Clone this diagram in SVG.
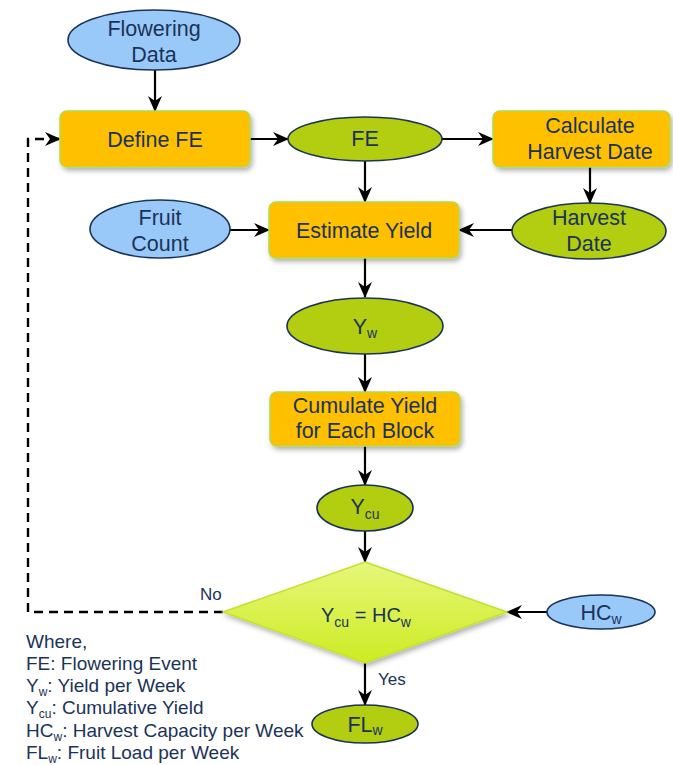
<svg xmlns="http://www.w3.org/2000/svg" width="673" height="765" viewBox="0 0 673 765">
<style>
text{font-family:"Liberation Sans",Arial,sans-serif;fill:#1B3358;}
.t{font-size:21.5px;text-anchor:middle;}
.s{font-size:14px;}
.lg{font-size:19px;}
.lgs{font-size:12px;}
.lbl{font-size:17px;}
.proc{fill:#FFC000;stroke:#B6D94A;stroke-width:1.5;filter:url(#sh);}
.inp{fill:#99C9F8;stroke:#1B3358;stroke-width:1.6;}
.out{fill:#B3CD10;stroke:#1B3358;stroke-width:1.6;}
.dec{fill:url(#dg);stroke:#C5E030;stroke-width:1.5;filter:url(#sh);}
.c{fill:none;stroke:#000;stroke-width:2.2;marker-end:url(#ah);}
.d{fill:none;stroke:#000;stroke-width:2.4;stroke-dasharray:9 6;marker-end:url(#ah);}
</style>
<defs>
<marker id="ah" viewBox="0 0 16 16" refX="15" refY="8" markerWidth="16" markerHeight="16" markerUnits="userSpaceOnUse" orient="auto">
<path d="M0,1 L16,8 L0,15 L5,8 z" fill="#000"/>
</marker>
<filter id="sh" x="-10%" y="-15%" width="125%" height="140%">
<feDropShadow dx="2" dy="3" stdDeviation="2.5" flood-color="#000" flood-opacity="0.3"/>
</filter>
<linearGradient id="dg" x1="0" y1="0" x2="0" y2="1">
<stop offset="0" stop-color="#E6F77A"/>
<stop offset="1" stop-color="#CDEB22"/>
</linearGradient>
</defs>

<g id="connectors">
<path class="c" d="M155,70 V111"/>
<path class="c" d="M250,139 H288"/>
<path class="c" d="M442,139 H493"/>
<path class="c" d="M590,167 V203"/>
<path class="c" d="M365,161 V202"/>
<path class="c" d="M230,230 H269"/>
<path class="c" d="M512,230 H459"/>
<path class="c" d="M365,258 V297"/>
<path class="c" d="M365,354 V392"/>
<path class="c" d="M365,446 V485"/>
<path class="c" d="M365,530 V562"/>
<path class="c" d="M547,612 H507"/>
<path class="c" d="M365,663 V705"/>
<path class="d" d="M223,612 H28 V139 H60"/>
<text class="lbl" x="200" y="600">No</text>
<text class="lbl" x="378" y="685">Yes</text>
</g>

<g id="flowering-data">
<ellipse class="inp" cx="154" cy="40" rx="86" ry="30"/>
<text class="t" x="154" y="36">Flowering</text>
<text class="t" x="154" y="62">Data</text>
</g>

<g id="define-fe">
<rect class="proc" x="60" y="111" width="190" height="56" rx="7"/>
<text class="t" x="155" y="147">Define FE</text>
</g>

<g id="fe">
<ellipse class="out" cx="365" cy="139" rx="77" ry="22"/>
<text class="t" x="365" y="146">FE</text>
</g>

<g id="calculate-harvest-date">
<rect class="proc" x="493" y="111" width="177" height="56" rx="7"/>
<text class="t" x="590" y="133">Calculate</text>
<text class="t" x="590" y="159">Harvest Date</text>
</g>

<g id="harvest-date">
<ellipse class="out" cx="589" cy="231" rx="77" ry="28"/>
<text class="t" x="589" y="225">Harvest</text>
<text class="t" x="589" y="251">Date</text>
</g>

<g id="fruit-count">
<ellipse class="inp" cx="160" cy="229" rx="70" ry="29"/>
<text class="t" x="160" y="225">Fruit</text>
<text class="t" x="160" y="251">Count</text>
</g>

<g id="estimate-yield">
<rect class="proc" x="269" y="202" width="190" height="56" rx="7"/>
<text class="t" x="364" y="238">Estimate Yield</text>
</g>

<g id="yw">
<ellipse class="out" cx="365" cy="326" rx="78" ry="28"/>
<text class="t" x="365" y="334">Y<tspan class="s" dy="4">w</tspan></text>
</g>

<g id="cumulate-yield">
<rect class="proc" x="270" y="392" width="190" height="54" rx="7"/>
<text class="t" x="365" y="413">Cumulate Yield</text>
<text class="t" x="365" y="438">for Each Block</text>
</g>

<g id="ycu">
<ellipse class="out" cx="365" cy="508" rx="48" ry="23"/>
<text class="t" x="365" y="514">Y<tspan class="s" dy="5">cu</tspan></text>
</g>

<g id="decision">
<polygon class="dec" points="365,562 507,612 365,663 223,612"/>
<text x="366" y="622" style="font-size:20px;text-anchor:middle">Y<tspan class="s" dy="5">cu</tspan><tspan dy="-5"> = HC</tspan><tspan class="s" dy="5">w</tspan></text>
</g>

<g id="hcw">
<ellipse class="inp" cx="601" cy="612" rx="54" ry="17"/>
<text class="t" x="601" y="620">HC<tspan class="s" dy="4">w</tspan></text>
</g>

<g id="flw">
<ellipse class="out" cx="365" cy="724" rx="53" ry="19"/>
<text class="t" x="365" y="732">FL<tspan class="s" dy="3">w</tspan></text>
</g>

<g id="legend">
<text class="lg" x="26" y="648">Where,</text>
<text class="lg" x="26" y="670">FE: Flowering Event</text>
<text class="lg" x="26" y="692">Y<tspan class="lgs" dy="4">w</tspan><tspan dy="-4">: Yield per Week</tspan></text>
<text class="lg" x="26" y="714">Y<tspan class="lgs" dy="4">cu</tspan><tspan dy="-4">: Cumulative Yield</tspan></text>
<text class="lg" x="26" y="737">HC<tspan class="lgs" dy="4">w</tspan><tspan dy="-4">: Harvest Capacity per Week</tspan></text>
<text class="lg" x="26" y="759">FL<tspan class="lgs" dy="4">w</tspan><tspan dy="-4">: Fruit Load per Week</tspan></text>
</g>
</svg>
